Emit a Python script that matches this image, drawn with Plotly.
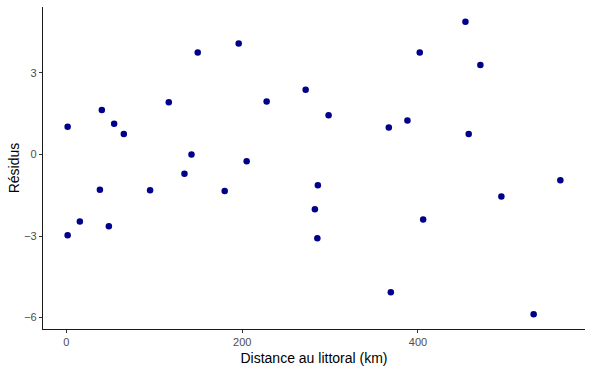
import plotly.graph_objects as go

distance_km = [1.4, 40.3, 54.3, 65.3, 116.5, 149.4, 196.0, 227.8, 142.3, 205.1,
               134.3, 38.1, 95.2, 180.1, 15.3, 48.3, 1.4, 454.0, 402.0, 471.0,
               272.2, 298.3, 366.8, 388.0, 457.7, 286.1, 562.0, 282.7, 405.9, 285.5,
               494.9, 369.1, 531.6]
residus = [1.02, 1.63, 1.13, 0.75, 1.92, 3.75, 4.08, 1.94, 0.0, -0.25,
           -0.71, -1.30, -1.32, -1.35, -2.47, -2.64, -2.97, 4.88, 3.75, 3.29,
           2.38, 1.44, 0.99, 1.25, 0.75, -1.13, -0.95, -2.02, -2.39, -3.08,
           -1.55, -5.07, -5.88]

x_ticks = [0, 200, 400]
y_ticks = [-6, -3, 0, 3]

fig = go.Figure(go.Scatter(
    x=distance_km, y=residus, mode="markers",
    marker=dict(color="#00008B", size=6.5, line=dict(width=0)),
    hoverinfo="skip",
))

xmin, xmax = min(distance_km), max(distance_km)
ymin, ymax = min(residus), max(residus)
dx = (xmax - xmin) * 0.05
dy = (ymax - ymin) * 0.05

axis_common = dict(
    showgrid=False, zeroline=False, showline=True, linecolor="#1a1a1a", linewidth=1.2,
    ticks="outside", ticklen=3, tickwidth=1, tickcolor="#333333", automargin=False,
    tickfont=dict(family="Liberation Sans, Arial, sans-serif", size=11, color="#4d4d4d"),
)

fig.update_layout(
    width=593, height=375,
    margin=dict(l=43, r=8, t=7, b=46),
    paper_bgcolor="white", plot_bgcolor="white",
    showlegend=False,
    xaxis=dict(range=[xmin - dx, xmax + dx], tickvals=x_ticks,
               title=dict(text="Distance au littoral (km)", standoff=5,
                          font=dict(family="Liberation Sans, Arial, sans-serif", size=14, color="black")),
               **axis_common),
    yaxis=dict(range=[ymin - dy, ymax + dy], tickvals=y_ticks,
               title=dict(text="Résidus", standoff=1,
                          font=dict(family="Liberation Sans, Arial, sans-serif", size=14, color="black")),
               **axis_common),
)

fig.write_html("out.html", config={"displayModeBar": False},
               post_script="document.body.style.margin='0';document.body.style.overflow='hidden';")
